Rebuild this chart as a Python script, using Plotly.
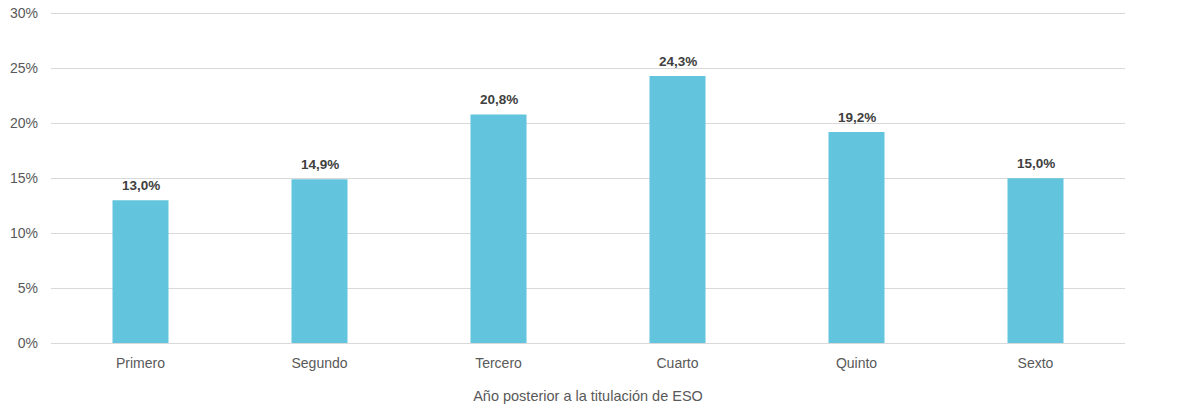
import plotly.graph_objects as go

categories = ["Primero", "Segundo", "Tercero", "Cuarto", "Quinto", "Sexto"]
values = [13.0, 14.9, 20.8, 24.3, 19.2, 15.0]
y_ticks = [0, 5, 10, 15, 20, 25, 30]
y_tick_labels = ["0%", "5%", "10%", "15%", "20%", "25%", "30%"]
x_title = "Año posterior a la titulación de ESO"

FONT = "Liberation Sans"

fig = go.Figure(go.Bar(
    x=categories,
    y=values,
    marker=dict(color="#62C4DD", line=dict(width=0)),
    width=0.313,
    hoverinfo="skip",
))

for c, v in zip(categories, values):
    fig.add_annotation(
        x=c, y=v, xref="x", yref="y",
        text="<b>" + f"{v:.1f}".replace(".", ",") + "%</b>",
        showarrow=False, yanchor="bottom", yshift=5,
        font=dict(family=FONT, size=13.5, color="#404040"),
    )

fig.update_layout(
    width=1180, height=413,
    margin=dict(l=51, r=55, t=12, b=70),
    paper_bgcolor="white",
    plot_bgcolor="white",
    showlegend=False,
    font=dict(family=FONT, size=13, color="#595959"),
    xaxis=dict(
        title=dict(text=x_title, font=dict(family=FONT, size=14.5, color="#595959"), standoff=20),
        showgrid=False, showline=False, ticks="",
        tickfont=dict(family=FONT, size=14, color="#595959"),
        ticklabelstandoff=10,
        automargin=False,
    ),
    yaxis=dict(
        range=[0, max(y_ticks) * 1.004], tickvals=y_ticks, ticktext=y_tick_labels,
        showgrid=True, gridcolor="#D9D9D9", gridwidth=1,
        zeroline=True, zerolinecolor="#D9D9D9", zerolinewidth=1,
        showline=False, ticks="",
        tickfont=dict(family=FONT, size=14, color="#595959"),
        ticklabelstandoff=12,
        automargin=False,
    ),
)

fig.write_html(
    "out.html",
    config={"displayModeBar": False, "staticPlot": True},
    post_script="document.body.style.margin='0';document.body.style.overflow='hidden';",
)
